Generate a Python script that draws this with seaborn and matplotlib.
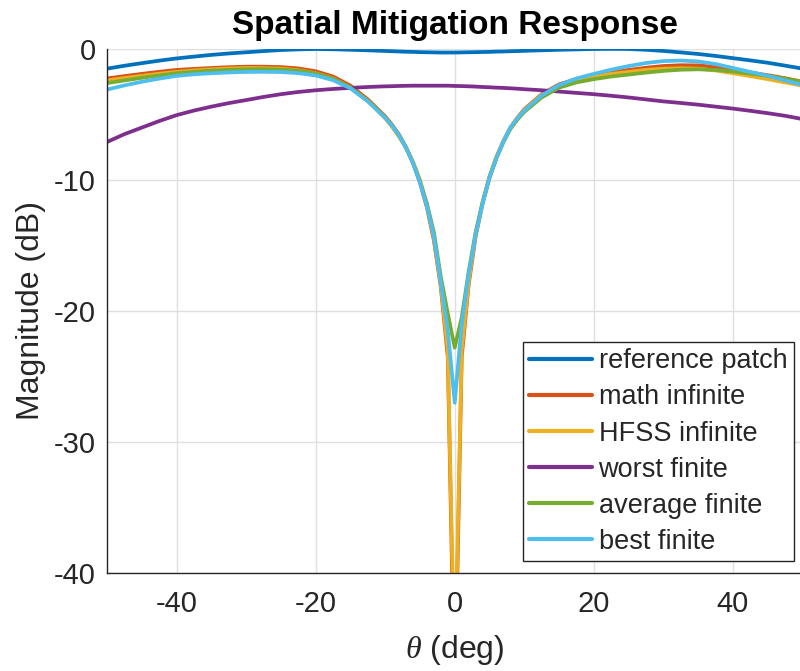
import numpy as np
import pandas as pd
import matplotlib
matplotlib.use("Agg")
import matplotlib.pyplot as plt
import seaborn as sns

theta = [-50, -47.5, -45, -42.5, -40, -37.5, -35, -32.5, -30, -27.5, -25, -22.5, -20, -17.5,
         -15, -12.5, -10, -9, -8, -7, -6, -5, -4, -3, -2, -1, 0, 1, 2, 3, 4, 5, 6, 7, 8, 9,
         10, 12.5, 15, 17.5, 20, 22.5, 25, 27.5, 30, 32.5, 35, 37.5, 40, 42.5, 45, 47.5, 50]

reference_patch = [-1.5, -1.28, -1.08, -0.89, -0.72, -0.58, -0.45, -0.34, -0.25, -0.16, -0.08,
                   -0.03, 0.0, -0.02, -0.06, -0.1, -0.15, -0.17, -0.19, -0.21, -0.22, -0.24,
                   -0.25, -0.26, -0.27, -0.27, -0.27, -0.26, -0.25, -0.24, -0.23, -0.22, -0.2,
                   -0.19, -0.17, -0.16, -0.14, -0.1, -0.06, -0.03, 0.0, 0.01, 0.0, -0.06, -0.15,
                   -0.26, -0.38, -0.53, -0.7, -0.87, -1.05, -1.27, -1.5]
math_infinite = [-2.25, -2.07, -1.9, -1.74, -1.6, -1.52, -1.45, -1.39, -1.35, -1.35, -1.38,
                 -1.48, -1.7, -2.1, -2.8, -3.85, -5.15, -5.8, -6.55, -7.5, -8.7, -10.2, -12.1,
                 -14.6, -18.2, -23.5, -50.0, -23.5, -18.0, -14.3, -11.8, -9.8, -8.3, -7.05,
                 -6.0, -5.25, -4.6, -3.45, -2.7, -2.3, -2.0, -1.78, -1.6, -1.43, -1.3, -1.24,
                 -1.25, -1.38, -1.6, -1.8, -2.0, -2.23, -2.5]
hfss_infinite = [-2.4, -2.22, -2.05, -1.89, -1.75, -1.64, -1.55, -1.49, -1.45, -1.46, -1.5,
                 -1.62, -1.85, -2.25, -2.95, -3.95, -5.3, -5.95, -6.7, -7.55, -8.6, -10.0,
                 -11.9, -14.4, -18.0, -23.0, -48.0, -23.0, -17.8, -14.1, -11.7, -9.7, -8.2,
                 -7.0, -6.0, -5.28, -4.65, -3.5, -2.8, -2.4, -2.1, -1.9, -1.75, -1.6, -1.5,
                 -1.47, -1.5, -1.64, -1.85, -2.07, -2.3, -2.55, -2.8]
worst_finite = [-7.1, -6.5, -6.0, -5.5, -5.05, -4.7, -4.4, -4.13, -3.9, -3.66, -3.45, -3.28,
                -3.15, -3.05, -2.97, -2.9, -2.85, -2.84, -2.82, -2.81, -2.8, -2.8, -2.8, -2.8,
                -2.8, -2.8, -2.82, -2.83, -2.85, -2.87, -2.9, -2.92, -2.95, -2.97, -3.0, -3.03,
                -3.07, -3.15, -3.25, -3.35, -3.45, -3.57, -3.7, -3.85, -4.0, -4.12, -4.25,
                -4.4, -4.55, -4.72, -4.9, -5.1, -5.35]
average_finite = [-2.6, -2.4, -2.2, -2.02, -1.85, -1.74, -1.65, -1.59, -1.55, -1.54, -1.57,
                  -1.66, -1.87, -2.27, -2.95, -3.95, -5.2, -5.85, -6.6, -7.55, -8.7, -10.1,
                  -11.8, -14.0, -17.4, -20.2, -22.8, -20.5, -17.0, -14.0, -11.7, -9.8, -8.3,
                  -7.1, -6.1, -5.4, -4.8, -3.7, -2.95, -2.55, -2.3, -2.1, -1.95, -1.8, -1.67,
                  -1.58, -1.55, -1.6, -1.72, -1.88, -2.05, -2.27, -2.5]
best_finite = [-3.1, -2.78, -2.5, -2.26, -2.05, -1.93, -1.85, -1.79, -1.75, -1.74, -1.76,
               -1.84, -2.02, -2.38, -3.0, -4.0, -5.25, -5.88, -6.6, -7.55, -8.7, -10.2, -12.0,
               -14.3, -17.8, -21.5, -27.0, -21.0, -17.2, -14.2, -11.8, -9.8, -8.3, -7.05,
               -6.0, -5.3, -4.7, -3.55, -2.75, -2.25, -1.9, -1.58, -1.3, -1.07, -0.92, -0.88,
               -0.95, -1.15, -1.45, -1.75, -2.05, -2.4, -2.75]

series_names = ["reference patch", "math infinite", "HFSS infinite",
                "worst finite", "average finite", "best finite"]
series_values = [reference_patch, math_infinite, hfss_infinite,
                 worst_finite, average_finite, best_finite]
colors = ["#0072BD", "#D95319", "#EDB120", "#7E2F8E", "#77AC30", "#4DBEEE"]

x_ticks = [-40, -20, 0, 20, 40]
y_ticks = [-40, -30, -20, -10, 0]

frames = []
for name, vals in zip(series_names, series_values):
    frames.append(pd.DataFrame({"theta": theta, "mag": vals, "series": name}))
df = pd.concat(frames, ignore_index=True)

sns.set_theme(style="white")
plt.rcParams["font.family"] = ["Liberation Sans", "DejaVu Sans"]
plt.rcParams["mathtext.fontset"] = "custom"
plt.rcParams["mathtext.it"] = "Liberation Serif:italic"
plt.rcParams["mathtext.rm"] = "Liberation Sans"

fig = plt.figure(figsize=(8.0, 6.71), dpi=100)
ax = fig.add_axes([107 / 800, 1 - 573 / 671, (802.5 - 107) / 800, (573 - 49) / 671])

sns.lineplot(data=df, x="theta", y="mag", hue="series", hue_order=series_names,
             palette=colors, linewidth=2.7, estimator=None, sort=False, ax=ax, legend=True)

ax.set_xlim(-50, 50)
ax.set_ylim(-40, 0)
ax.set_xticks(x_ticks)
ax.set_yticks(y_ticks)
ax.set_xticklabels([str(t) for t in x_ticks])
ax.set_yticklabels([str(t) for t in y_ticks])

dark = "#262626"
ax.grid(True, color="#DFDFDF", linewidth=1.0)
ax.set_axisbelow(True)
for s in ["top", "right"]:
    ax.spines[s].set_visible(False)
for s in ["left", "bottom"]:
    ax.spines[s].set_color(dark)
    ax.spines[s].set_linewidth(1.0)
ax.tick_params(axis="both", direction="in", length=4, width=1.0, color=dark,
               labelcolor=dark, labelsize=21)
ax.tick_params(axis="x", pad=12)
ax.tick_params(axis="y", pad=8)

ax.set_xlabel(r"$\theta$ (deg)", fontsize=23, color=dark, labelpad=11)
ax.set_ylabel("Magnitude (dB)", fontsize=23, color=dark, labelpad=6)
ax.set_title("Spatial Mitigation Response", fontsize=24, fontweight="bold", color="black", pad=11)

handles, labels = ax.get_legend_handles_labels()
for h in handles:
    h.set_linewidth(3.0)
leg = ax.legend(handles, labels, loc="upper left",
                bbox_to_anchor=(522.7 / 800, 1 - 341.7 / 671), bbox_transform=fig.transFigure,
                fontsize=19.5, frameon=True, fancybox=False, framealpha=1.0,
                edgecolor=dark, handlelength=2.3, handletextpad=0.25, labelspacing=0.37,
                borderpad=0.25, borderaxespad=0.0)
leg.get_frame().set_linewidth(1.0)

fig.savefig("out.png", dpi=100)
